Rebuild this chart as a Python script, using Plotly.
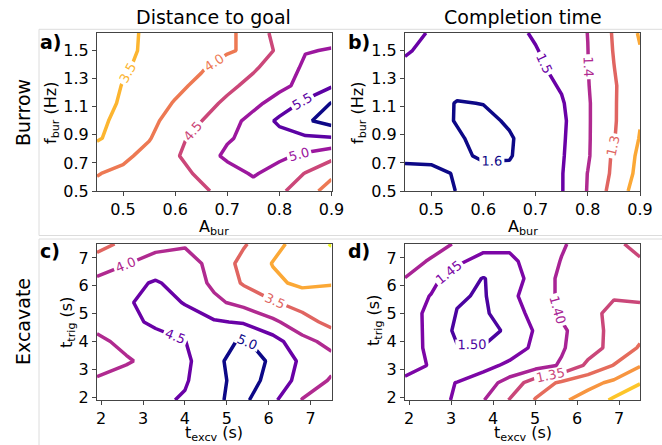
import plotly.graph_objects as go

FONT = "DejaVu Sans"

# ---------------- data ----------------
# Burrow grid
a_bur = [0.45, 0.5, 0.55, 0.6, 0.65, 0.7, 0.75, 0.8, 0.85, 0.9]
f_bur = [0.5, 0.625, 0.75, 0.875, 1.0, 1.125, 1.25, 1.375, 1.5, 1.625]

# a) Distance to goal (rows = f_bur, cols = a_bur)
dist_burrow = [
    [4.10, 4.15, 4.25, 4.35, 4.45, 4.60, 4.80, 4.60, 4.20, 3.80],
    [3.98, 4.10, 4.25, 4.40, 4.55, 4.80, 5.05, 4.80, 4.48, 4.10],
    [3.75, 3.90, 4.15, 4.45, 4.75, 5.10, 5.20, 5.10, 4.90, 4.65],
    [3.45, 3.70, 3.97, 4.35, 4.70, 4.95, 5.15, 5.30, 5.42, 5.45],
    [3.42, 3.60, 3.90, 4.15, 4.49, 4.82, 5.15, 5.60, 5.93, 6.20],
    [3.35, 3.55, 3.80, 4.03, 4.30, 4.60, 4.88, 5.20, 5.60, 6.02],
    [3.25, 3.52, 3.70, 3.90, 4.10, 4.38, 4.65, 4.88, 5.15, 5.45],
    [3.15, 3.45, 3.62, 3.80, 3.96, 4.20, 4.44, 4.75, 5.08, 5.30],
    [3.10, 3.40, 3.58, 3.70, 3.80, 3.95, 4.10, 4.62, 4.98, 5.02],
    [3.05, 3.35, 3.60, 3.70, 3.80, 3.90, 4.20, 4.70, 4.82, 4.88],
]

# b) Completion time (rows = f_bur, cols = a_bur)
time_burrow = [
    [1.630, 1.625, 1.598, 1.585, 1.570, 1.540, 1.505, 1.395, 1.260, 1.150],
    [1.620, 1.615, 1.595, 1.585, 1.585, 1.550, 1.505, 1.398, 1.280, 1.170],
    [1.585, 1.585, 1.590, 1.607, 1.605, 1.560, 1.510, 1.410, 1.285, 1.180],
    [1.570, 1.575, 1.590, 1.625, 1.608, 1.560, 1.515, 1.410, 1.305, 1.195],
    [1.560, 1.570, 1.605, 1.620, 1.590, 1.560, 1.520, 1.410, 1.310, 1.205],
    [1.550, 1.565, 1.605, 1.598, 1.575, 1.550, 1.510, 1.410, 1.310, 1.210],
    [1.540, 1.560, 1.570, 1.570, 1.560, 1.540, 1.490, 1.405, 1.310, 1.220],
    [1.520, 1.540, 1.555, 1.560, 1.550, 1.520, 1.470, 1.402, 1.302, 1.215],
    [1.490, 1.525, 1.545, 1.550, 1.540, 1.505, 1.460, 1.401, 1.295, 1.205],
    [1.460, 1.510, 1.535, 1.540, 1.525, 1.490, 1.450, 1.399, 1.290, 1.190],
]

# Excavate grids
t_excv_c = [1.9, 2.6, 3.3, 4.0, 4.7, 5.4, 6.1, 6.8, 7.5]
t_trig_c = [1.9, 2.6, 3.3, 4.0, 4.7, 5.4, 6.1, 6.8, 7.5]

# c) Distance to goal (rows = t_trig, cols = t_excv)
dist_excavate = [
    [4.20, 4.30, 4.40, 4.55, 4.95, 5.10, 4.60, 3.98, 3.70],
    [4.05, 4.20, 4.30, 4.45, 4.85, 5.20, 4.85, 4.30, 3.95],
    [3.80, 3.95, 4.15, 4.40, 4.85, 5.30, 4.90, 4.40, 4.15],
    [3.90, 4.12, 4.30, 4.49, 4.80, 5.07, 4.70, 4.15, 3.85],
    [4.15, 4.35, 4.60, 4.65, 4.55, 4.45, 4.10, 3.70, 3.35],
    [4.25, 4.45, 4.65, 4.48, 4.10, 3.85, 3.55, 3.30, 3.15],
    [4.15, 4.35, 4.55, 4.30, 3.90, 3.45, 3.10, 2.90, 2.98],
    [3.70, 3.98, 4.20, 4.20, 3.85, 3.35, 2.98, 2.75, 2.70],
    [3.35, 3.60, 3.85, 3.95, 3.80, 3.55, 3.15, 2.80, 2.47],
]

t_excv_d = [1.9, 2.52, 3.14, 3.77, 4.39, 5.01, 5.63, 6.26, 6.88, 7.5]
t_trig_d = [1.9, 2.52, 3.14, 3.77, 4.39, 5.01, 5.63, 6.26, 6.88, 7.5]

# d) Completion time (rows = t_trig, cols = t_excv)
time_excavate = [
    [1.470, 1.465, 1.445, 1.402, 1.348, 1.297, 1.258, 1.230, 1.192, 1.160],
    [1.456, 1.462, 1.449, 1.425, 1.380, 1.325, 1.293, 1.265, 1.240, 1.203],
    [1.440, 1.452, 1.475, 1.465, 1.440, 1.420, 1.395, 1.340, 1.298, 1.253],
    [1.435, 1.457, 1.497, 1.497, 1.475, 1.440, 1.405, 1.370, 1.335, 1.295],
    [1.430, 1.460, 1.510, 1.520, 1.490, 1.445, 1.410, 1.365, 1.340, 1.315],
    [1.435, 1.458, 1.502, 1.510, 1.465, 1.440, 1.392, 1.358, 1.343, 1.338],
    [1.425, 1.452, 1.495, 1.505, 1.460, 1.430, 1.390, 1.365, 1.352, 1.357],
    [1.401, 1.435, 1.478, 1.502, 1.475, 1.430, 1.390, 1.370, 1.365, 1.370],
    [1.380, 1.405, 1.440, 1.470, 1.460, 1.430, 1.398, 1.375, 1.365, 1.355],
    [1.350, 1.380, 1.405, 1.430, 1.440, 1.425, 1.405, 1.380, 1.360, 1.335],
]

col_titles = ["Distance to goal", "Completion time"]
row_titles = ["Burrow", "Excavate"]
panel_tags = ["a)", "b)", "c)", "d)"]

burrow_xticks = [0.5, 0.6, 0.7, 0.8, 0.9]
burrow_yticks = [0.5, 0.7, 0.9, 1.1, 1.3, 1.5]
excavate_ticks = [2, 3, 4, 5, 6, 7]

xtitle_burrow = "A<sub>bur</sub>"
ytitle_burrow = "f<sub>bur</sub> (Hz)"
xtitle_exc = "t<sub>excv</sub> (s)"
ytitle_exc = "t<sub>trig</sub> (s)"

# ---------------- figure ----------------
W, H = 662, 445


def px_x(p):
    return p / W


def px_y(p):
    return 1 - p / H


def contour(x, y, z, start, end, size, fmt, xa, ya):
    return go.Contour(
        x=x, y=y, z=z,
        xaxis=xa, yaxis=ya,
        colorscale="Plasma", reversescale=True, showscale=False,
        autocontour=False,
        contours=dict(coloring="lines", start=start, end=end, size=size,
                      showlabels=True, labelformat=fmt,
                      labelfont=dict(family=FONT, size=13)),
        line=dict(width=3.5, smoothing=0),
        hoverinfo="skip",
    )


fig = go.Figure()
fig.add_trace(contour(a_bur, f_bur, dist_burrow, 3.0, 6.0, 0.5, ".1f", "x", "y"))
fig.add_trace(contour(a_bur, f_bur, time_burrow, 1.1, 1.6, 0.1, ".1f", "x2", "y2"))
fig.add_trace(contour(t_excv_c, t_trig_c, dist_excavate, 2.5, 5.0, 0.5, ".1f", "x3", "y3"))
fig.add_trace(contour(t_excv_d, t_trig_d, time_excavate, 1.15, 1.55, 0.05, ".2f", "x4", "y4"))

axis_common = dict(
    showline=True, mirror=True, linecolor="#444", linewidth=1,
    ticks="outside", ticklen=4, tickcolor="#444", tickwidth=1,
    showgrid=False, zeroline=False, automargin=False,
    tickfont=dict(family=FONT, size=16, color="black"),
)

col_dom = [[px_x(97), px_x(331.5)], [px_x(405), px_x(640)]]
row_dom = [[px_y(191), px_y(33)], [px_y(400), px_y(244)]]

layout_axes = {}
for i, (r, c) in enumerate([(0, 0), (0, 1), (1, 0), (1, 1)]):
    sfx = "" if i == 0 else str(i + 1)
    if r == 0:
        xr, yr = [0.45, 0.9], [0.5, 1.625]
        xt, yt = burrow_xticks, burrow_yticks
    else:
        xr, yr = [1.9, 7.5], [1.9, 7.5]
        xt, yt = excavate_ticks, excavate_ticks
    layout_axes["xaxis" + sfx] = dict(axis_common, domain=col_dom[c], range=xr,
                                      tickvals=xt, anchor="y" + sfx)
    layout_axes["yaxis" + sfx] = dict(axis_common, domain=row_dom[r], range=yr,
                                      tickvals=yt, anchor="x" + sfx)

annotations = []


def add_text(txt, xp, yp, size, angle=0, xanchor="center"):
    annotations.append(dict(text=txt, x=px_x(xp), y=px_y(yp), xref="paper", yref="paper",
                            showarrow=False, xanchor=xanchor, yanchor="middle",
                            textangle=angle, borderpad=0,
                            font=dict(family=FONT, size=size, color="black")))


# column and row titles
for txt, xc in zip(col_titles, [214, 522.5]):
    add_text(txt, xc, 17, 19)
for txt, yc in zip(row_titles, [112.5, 321.5]):
    add_text(txt, 22.5, yc, 19, angle=-90)
# panel tags
for txt, (xp, yp) in zip(panel_tags, [(39, 42), (347, 42), (39, 251), (347, 251)]):
    add_text("<b>" + txt + "</b>", xp, yp, 19, xanchor="left")
# axis titles
add_text(xtitle_burrow, 214, 227, 16)
add_text(xtitle_burrow, 522.5, 227, 16)
add_text(xtitle_exc, 214, 433.5, 16)
add_text(xtitle_exc, 522.5, 433.5, 16)
add_text(ytitle_burrow, 51, 113, 16, angle=-90)
add_text(ytitle_burrow, 358, 113, 16, angle=-90)
add_text(ytitle_exc, 67, 323, 16, angle=-90)
add_text(ytitle_exc, 374, 321, 16, angle=-90)

shapes = [
    dict(type="rect", xref="paper", yref="paper", x0=px_x(39), x1=1.05,
         y0=px_y(235.5), y1=px_y(29.3), line=dict(color="#dcdcdc", width=1), layer="below"),
    dict(type="rect", xref="paper", yref="paper", x0=px_x(39), x1=1.05,
         y0=-0.05, y1=px_y(239), line=dict(color="#dcdcdc", width=1), layer="below"),
]

fig.update_layout(
    width=W, height=H,
    margin=dict(l=0, r=0, t=0, b=0, autoexpand=False),
    paper_bgcolor="white", plot_bgcolor="white",
    font=dict(family=FONT, color="black"),
    showlegend=False,
    annotations=annotations,
    shapes=shapes,
    **layout_axes,
)

fig.write_html("out.html")
